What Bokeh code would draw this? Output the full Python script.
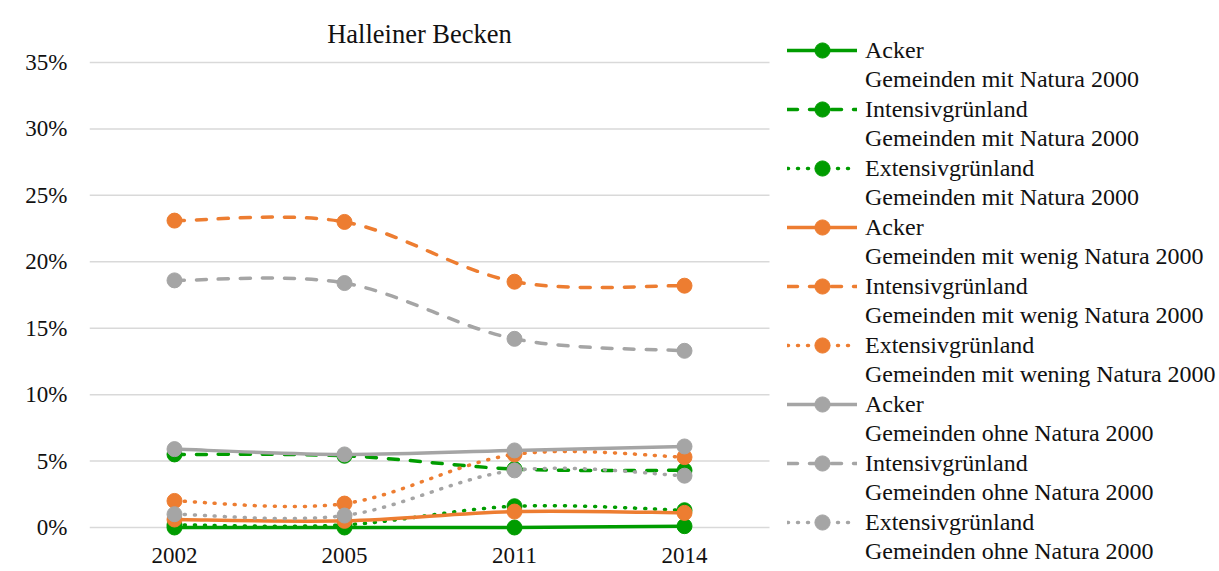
from bokeh.plotting import figure
from bokeh.models import (Range1d, FixedTicker, PrintfTickFormatter, Legend,
                          LegendItem, Label, ColumnDataSource)
from bokeh.embed import file_html
from bokeh.resources import INLINE

# ---------------- data ----------------
years = ["2002", "2005", "2011", "2014"]
y_ticks = [0, 5, 10, 15, 20, 25, 30, 35]
title_text = "Halleiner Becken"

acker_mit = [0.0, 0.0, 0.0, 0.1]
intensiv_mit = [5.5, 5.4, 4.4, 4.3]
extensiv_mit = [0.2, 0.2, 1.6, 1.3]
acker_wenig = [0.6, 0.5, 1.2, 1.1]
intensiv_wenig = [23.1, 23.0, 18.5, 18.2]
extensiv_wenig = [2.0, 1.8, 5.5, 5.3]
acker_ohne = [5.9, 5.5, 5.8, 6.1]
intensiv_ohne = [18.6, 18.4, 14.2, 13.3]
extensiv_ohne = [1.0, 0.9, 4.3, 3.9]

names = ["Acker", "Intensivgrünland", "Extensivgrünland"] * 3
groups = ["Gemeinden mit Natura 2000"] * 3 + \
         ["Gemeinden mit wenig Natura 2000", "Gemeinden mit wenig Natura 2000",
          "Gemeinden mit wening Natura 2000"] + \
         ["Gemeinden ohne Natura 2000"] * 3
series = [acker_mit, intensiv_mit, extensiv_mit,
          acker_wenig, intensiv_wenig, extensiv_wenig,
          acker_ohne, intensiv_ohne, extensiv_ohne]

# ---------------- styles ----------------
GREEN, ORANGE, GREY = "#009C00", "#ED7D31", "#A5A5A5"
colors = [GREEN] * 3 + [ORANGE] * 3 + [GREY] * 3
dashes = ["solid", "10 12", "1 9"] * 3
FONT = "Liberation Serif"
TEXT = "#111111"

xs = list(range(len(years)))

# the frame spans the legend area too; 170 px per category
FRAME_W = 1130
x_end = -0.5 + FRAME_W / 170.0
PX_PER_PCT = 465 / 35.0

p = figure(frame_width=FRAME_W, frame_height=557, output_backend="svg",
           toolbar_location=None,
           x_range=Range1d(-0.5, x_end),
           y_range=Range1d(-44 / PX_PER_PCT, 513 / PX_PER_PCT),
           min_border_left=89, min_border_right=0, min_border_top=14,
           min_border_bottom=0)
p.outline_line_color = None
p.background_fill_color = "white"
p.border_fill_color = "white"

# axes
p.xaxis.ticker = FixedTicker(ticks=xs)
p.xaxis.major_label_overrides = {i: y for i, y in enumerate(years)}
p.xaxis.axis_line_color = None
p.xaxis.major_tick_line_color = None
p.xaxis.minor_tick_line_color = None
p.xaxis.major_label_standoff = -30
p.xaxis.major_label_text_font = FONT
p.xaxis.major_label_text_font_size = "23px"
p.xaxis.major_label_text_color = TEXT

p.yaxis.ticker = FixedTicker(ticks=y_ticks)
p.yaxis.formatter = PrintfTickFormatter(format="%d%%")
p.yaxis.axis_line_color = None
p.yaxis.major_tick_line_color = None
p.yaxis.minor_tick_line_color = None
p.yaxis.major_label_standoff = 16
p.yaxis.major_label_text_font = FONT
p.yaxis.major_label_text_font_size = "23px"
p.yaxis.major_label_text_color = TEXT

# horizontal gridlines only across the category area
p.xgrid.grid_line_color = None
p.ygrid.grid_line_color = None
p.segment(x0=-0.5, x1=3.5, y0=y_ticks, y1=y_ticks, line_color="#D9D9D9",
          line_width=1.5, level="underlay")


def smooth(xv, yv):
    """Catmull-Rom style bezier segments through the data points (like Excel's smoothed line)."""
    n = len(xv)
    d = dict(x0=[], y0=[], x1=[], y1=[], cx0=[], cy0=[], cx1=[], cy1=[])
    for i in range(n - 1):
        a = max(i - 1, 0)
        b = min(i + 2, n - 1)
        d["x0"].append(xv[i]); d["y0"].append(yv[i])
        d["x1"].append(xv[i + 1]); d["y1"].append(yv[i + 1])
        d["cx0"].append(xv[i] + (xv[i + 1] - xv[a]) / 6.0)
        d["cy0"].append(yv[i] + (yv[i + 1] - yv[a]) / 6.0)
        d["cx1"].append(xv[i + 1] - (xv[b] - xv[i]) / 6.0)
        d["cy1"].append(yv[i + 1] - (yv[b] - yv[i]) / 6.0)
    return ColumnDataSource(d)


first_lines = []
second_lines = []
for vals, name, grp, c, dsh in zip(series, names, groups, colors, dashes):
    bz = p.bezier(x0="x0", y0="y0", x1="x1", y1="y1", cx0="cx0", cy0="cy0",
                  cx1="cx1", cy1="cy1", source=smooth(xs, vals),
                  line_color=c, line_width=3.5, line_dash=dsh, line_cap="round")
    sc = p.scatter(xs, vals, marker="circle", size=15, fill_color=c, line_color=c)
    spacer = p.line(x=[], y=[], line_alpha=0)
    first_lines.append(LegendItem(label=name, renderers=[bz, sc]))
    second_lines.append(LegendItem(label=grp, renderers=[spacer]))

common = dict(padding=0, margin=0, spacing=21, glyph_width=70, glyph_height=38,
              label_height=20, label_standoff=8, border_line_color=None,
              background_fill_alpha=0, label_text_font=FONT,
              label_text_font_size="24px", label_text_color=TEXT)
legend_a = Legend(items=first_lines, location=(698, 30), **common)
legend_b = Legend(items=second_lines, location=(698, 1), **common)
p.add_layout(legend_a, "center")
p.add_layout(legend_b, "center")

p.add_layout(Label(x=1.5, y=37.18, x_offset=-10, text=title_text,
                   text_align="center", text_baseline="middle",
                   text_font=FONT, text_font_size="26.5px",
                   text_color=TEXT))

open("out.html", "w").write(file_html(p, INLINE))
